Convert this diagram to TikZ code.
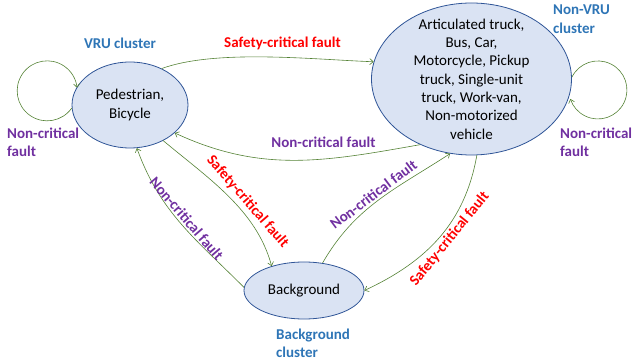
\documentclass[tikz,border=0pt]{standalone}
\usepackage{fontspec}
\setmainfont{Carlito}
\usepackage{xcolor}
\usepackage{tikz}
\usetikzlibrary{arrows.meta,positioning,shapes.geometric}

\definecolor{statefill}{HTML}{DAE3F3}
\definecolor{statedraw}{HTML}{2F5597}
\definecolor{transgreen}{HTML}{548235}
\definecolor{critred}{HTML}{FF0000}
\definecolor{noncritpurple}{HTML}{7030A0}
\definecolor{clusterblue}{HTML}{2E75B6}

\begin{document}
\begin{tikzpicture}[
      x=1pt,y=1pt,
      mystate/.style={
         ellipse,
         draw=statedraw,
         fill=statefill,
         line width=0.8pt,
         inner sep=-30pt,
         align=center,
         font=\fontsize{15pt}{18.3pt}\selectfont},
      mytrans/.style={draw=transgreen, line width=0.6pt,
         -{Straight Barb[length=3.5pt,width=6pt]}},
      critlbl/.style={text=critred, font=\fontsize{15pt}{18pt}\selectfont\bfseries, inner sep=0pt},
      noncritlbl/.style={text=noncritpurple, font=\fontsize{15pt}{18pt}\selectfont\bfseries, inner sep=0pt},
      clusterlbl/.style={text=clusterblue, font=\fontsize{15pt}{18.5pt}\selectfont\bfseries, inner sep=0pt, align=left}
      ]
\useasboundingbox (0,0) rectangle (632,364);

\node[mystate,minimum width=116pt,minimum height=86pt] (ped) at (130,259) {Pedestrian,\\Bicycle};
\node[mystate,minimum width=200pt,minimum height=152pt] (veh) at (471.5,285)
   {Articulated truck,\\Bus, Car,\\Motorcycle, Pickup\\truck, Single-unit\\truck, Work-van,\\Non-motorized\\vehicle};
\node[mystate,minimum width=120pt,minimum height=57pt] (bg) at (304,73.5) {Background};

% cluster names
\node[clusterlbl] (vruname) at (120,321) {VRU cluster};
\node[clusterlbl,anchor=west] (nonvruname) at (553,345) {Non-VRU\\cluster};
\node[clusterlbl,anchor=west] (bgname) at (276,20.5) {Background\\cluster};

% transitions between the two big clusters
\draw[mytrans] (ped.49) to[out=20,in=178,looseness=0.7] (veh.170);
\draw[mytrans] (veh.232) to[out=190,in=-25] (ped.328);
\node[critlbl] (pedveh) at (282.5,321) {Safety-critical fault};
\node[noncritlbl] (vehped) at (323.5,222) {Non-critical fault};

% transitions to and from background
\draw[mytrans] (ped.-47) to[out=-40,in=105,looseness=0.9]
   node[critlbl,sloped,above,inner sep=3.5pt,pos=0.6] (pedbg) {Safety-critical fault} (bg.143);
\draw[mytrans] (bg.177) to[out=135,in=-70]
   node[noncritlbl,sloped,above,inner sep=2pt,pos=0.5] (bgped) {Non-critical fault} (ped.279);
\draw[mytrans] (bg.56) to[out=60,in=213]
   node[noncritlbl,sloped,above,inner sep=2pt,pos=0.5] (bgveh) {Non-critical fault} (veh.254);
\draw[mytrans] (veh.274) to[out=-100,in=25]
   node[critlbl,sloped,below,inner sep=2pt,pos=0.47] (vehbg) {Safety-critical fault} (bg.0);

% self loops
\draw[mytrans] (ped.183) arc[start angle=-35,end angle=-354,radius=30];
\draw[mytrans] (veh.1) arc[start angle=154,end angle=-162,radius=29];
\node[noncritlbl,align=left,anchor=west] (pedloop) at (7,222) {Non-critical\\fault};
\node[noncritlbl,align=left,anchor=west] (vehloop) at (560,222) {Non-critical\\fault};

\end{tikzpicture}
\end{document}
